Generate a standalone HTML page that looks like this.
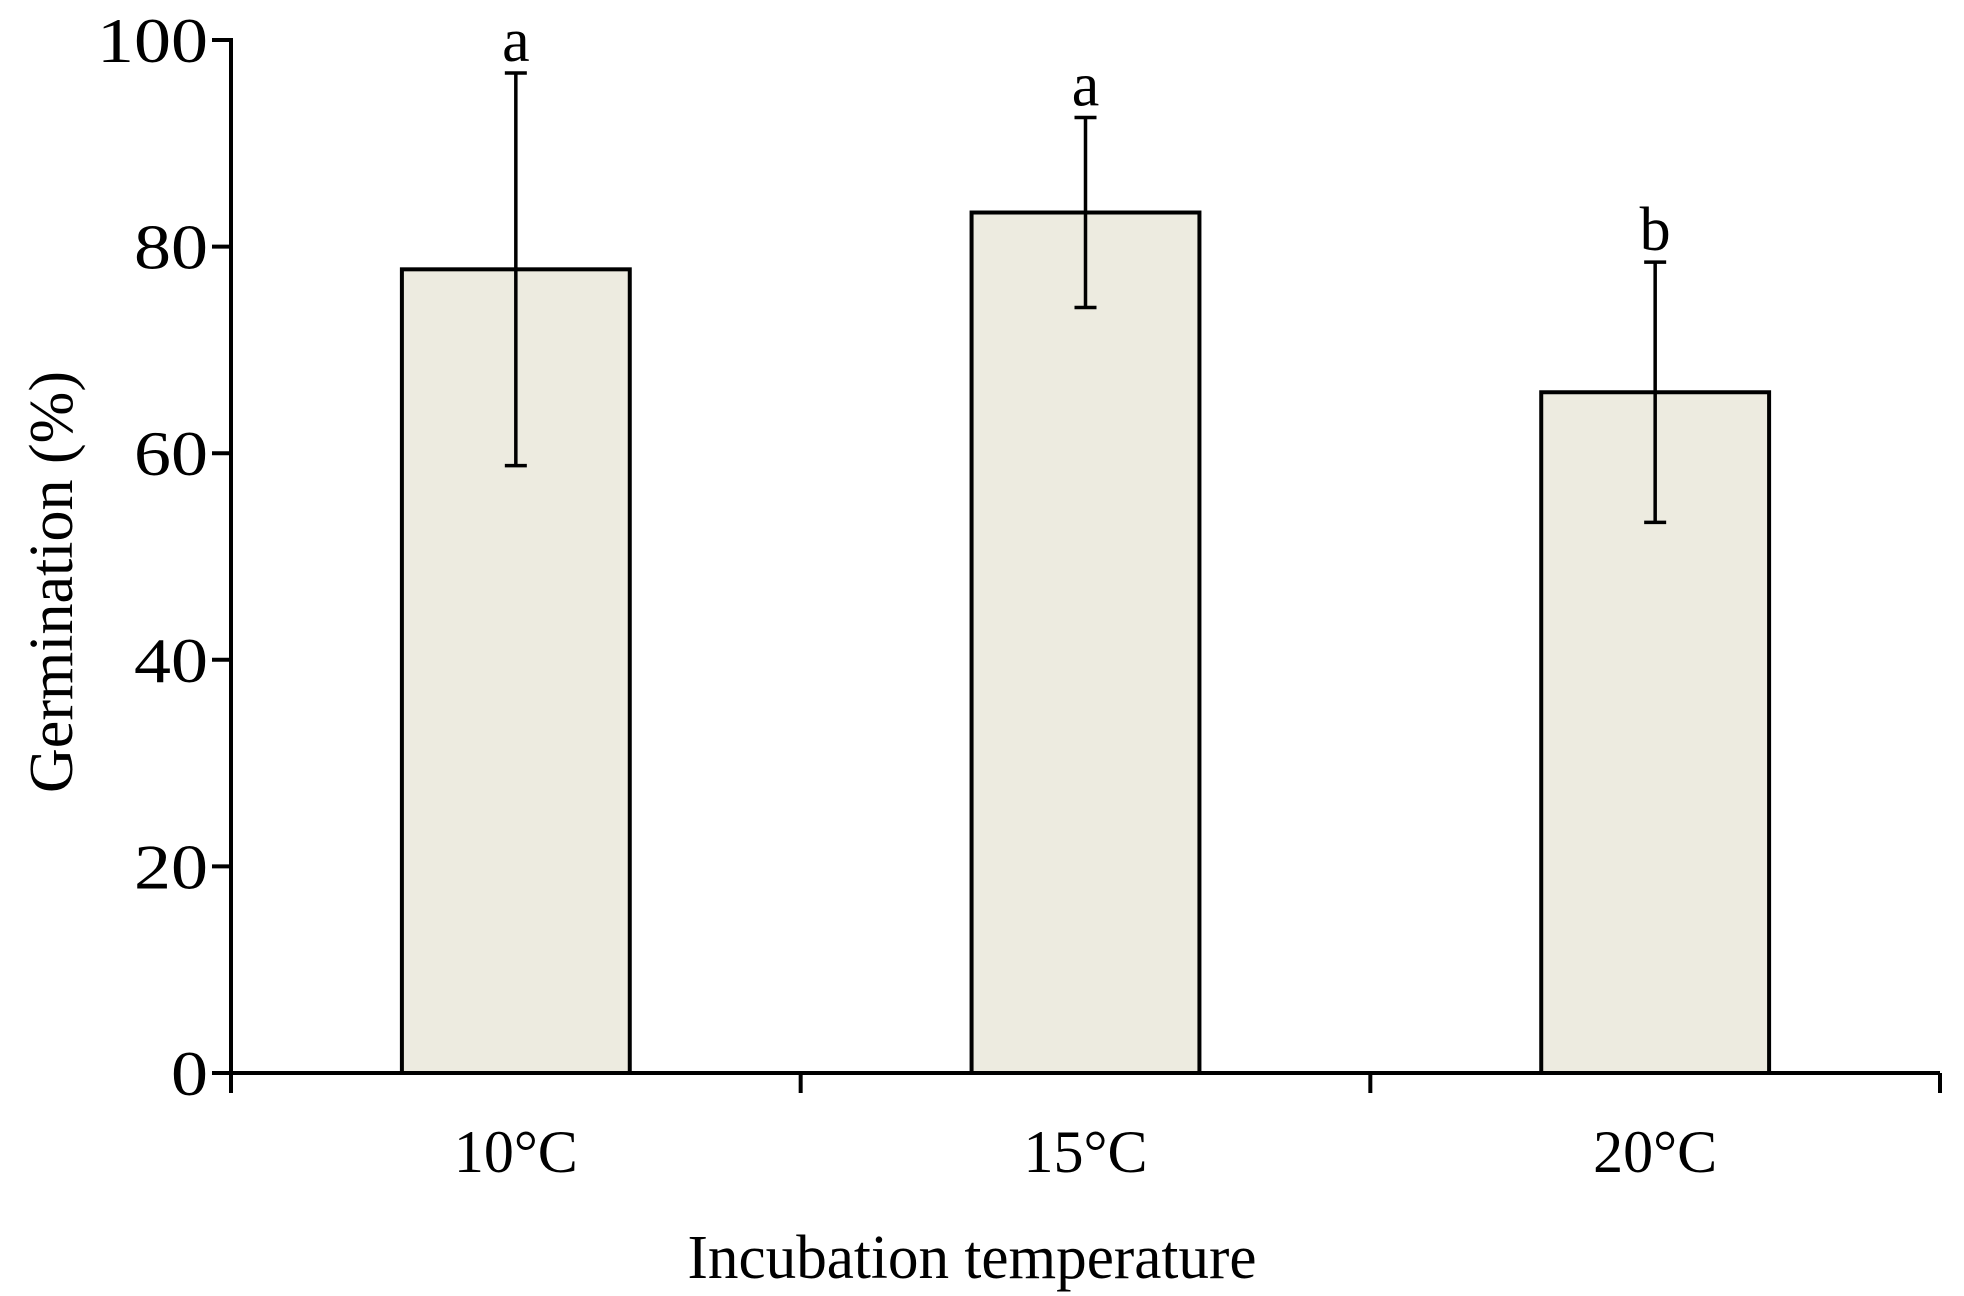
<!DOCTYPE html>
<html><head><meta charset="utf-8"><style>
html,body{margin:0;padding:0;background:#fff;}
svg{display:block;font-family:"Liberation Serif",serif;}
</style></head><body>
<svg id="chart" width="1964" height="1296" viewBox="0 0 1964 1296" xmlns="http://www.w3.org/2000/svg">
<g id="plot"></g>
</svg>
<script>
const categories = ["10°C", "15°C", "20°C"];
const values = [77.8, 83.3, 65.9];
const errors = [19.0, 9.2, 12.6];
const letters = ["a", "a", "b"];
const yTicks = [0, 20, 40, 60, 80, 100];

const NS = "http://www.w3.org/2000/svg";
const g = document.getElementById("plot");
const X0 = 231, X1 = 1940, Y0 = 1073, Y100 = 40;
const yScale = v => Y0 - (Y0 - Y100) * v / 100;
const band = (X1 - X0) / categories.length;
const xCenter = i => X0 + band * (i + 0.5);
const barW = band * 0.4;

function mk(tag, attrs, text) {
  const e = document.createElementNS(NS, tag);
  for (const k in attrs) e.setAttribute(k, attrs[k]);
  if (text !== undefined) e.textContent = text;
  g.appendChild(e);
  return e;
}

// bars
categories.forEach((c, i) => {
  const cx = xCenter(i), top = yScale(values[i]);
  const b = mk("rect", {x: cx - barW / 2, y: top, width: barW, height: Y0 - top, fill: "#edebe0", stroke: "#000", "stroke-width": 4});
  
  
  const hi = yScale(values[i] + errors[i]), lo = yScale(values[i] - errors[i]);
  const eb = mk("path", {d: `M${cx},${hi}V${lo}M${cx - 11},${hi}H${cx + 11}M${cx - 11},${lo}H${cx + 11}`, stroke: "#000", "stroke-width": 3.5, fill: "none"});
  
  
  const lt = mk("text", {x: cx, y: hi - 12, "font-size": 62, "text-anchor": "middle"}, letters[i]);
  
  
  const xl = mk("text", {x: cx, y: 1172, "font-size": 60, "text-anchor": "middle"}, c);
  
  
});

// y axis
const ya = mk("path", {d: `M${X0},${Y100 - 2}V${Y0}`, stroke: "#000", "stroke-width": 4, fill: "none"});


yTicks.forEach(t => {
  const y = yScale(t);
  const tk = mk("path", {d: `M${X0 - 19},${y}H${X0}`, stroke: "#000", "stroke-width": 4});
  
  
  const s = String(t);
  const tl = mk("text", {x: 208, y: y + 22, "font-size": 64, "text-anchor": "end", textLength: 37 * s.length, lengthAdjust: "spacingAndGlyphs"}, s);
  
  
});

// x axis
const xa = mk("path", {d: `M${X0 - 19},${Y0}H${X1}`, stroke: "#000", "stroke-width": 4, fill: "none"});


for (let i = 0; i <= categories.length; i++) {
  const x = X0 + band * i;
  const tk = mk("path", {d: `M${x},${Y0}V${Y0 + 20}`, stroke: "#000", "stroke-width": 4});
  
  
}

const xt = mk("text", {x: 972, y: 1278, "font-size": 62, "text-anchor": "middle", textLength: 569, lengthAdjust: "spacingAndGlyphs"}, "Incubation temperature");


const yt = mk("text", {x: 0, y: 0, "font-size": 62, "text-anchor": "middle", textLength: 422, lengthAdjust: "spacingAndGlyphs", transform: "translate(72,582) rotate(-90)"}, "Germination (%)");


</script>
</body></html>
